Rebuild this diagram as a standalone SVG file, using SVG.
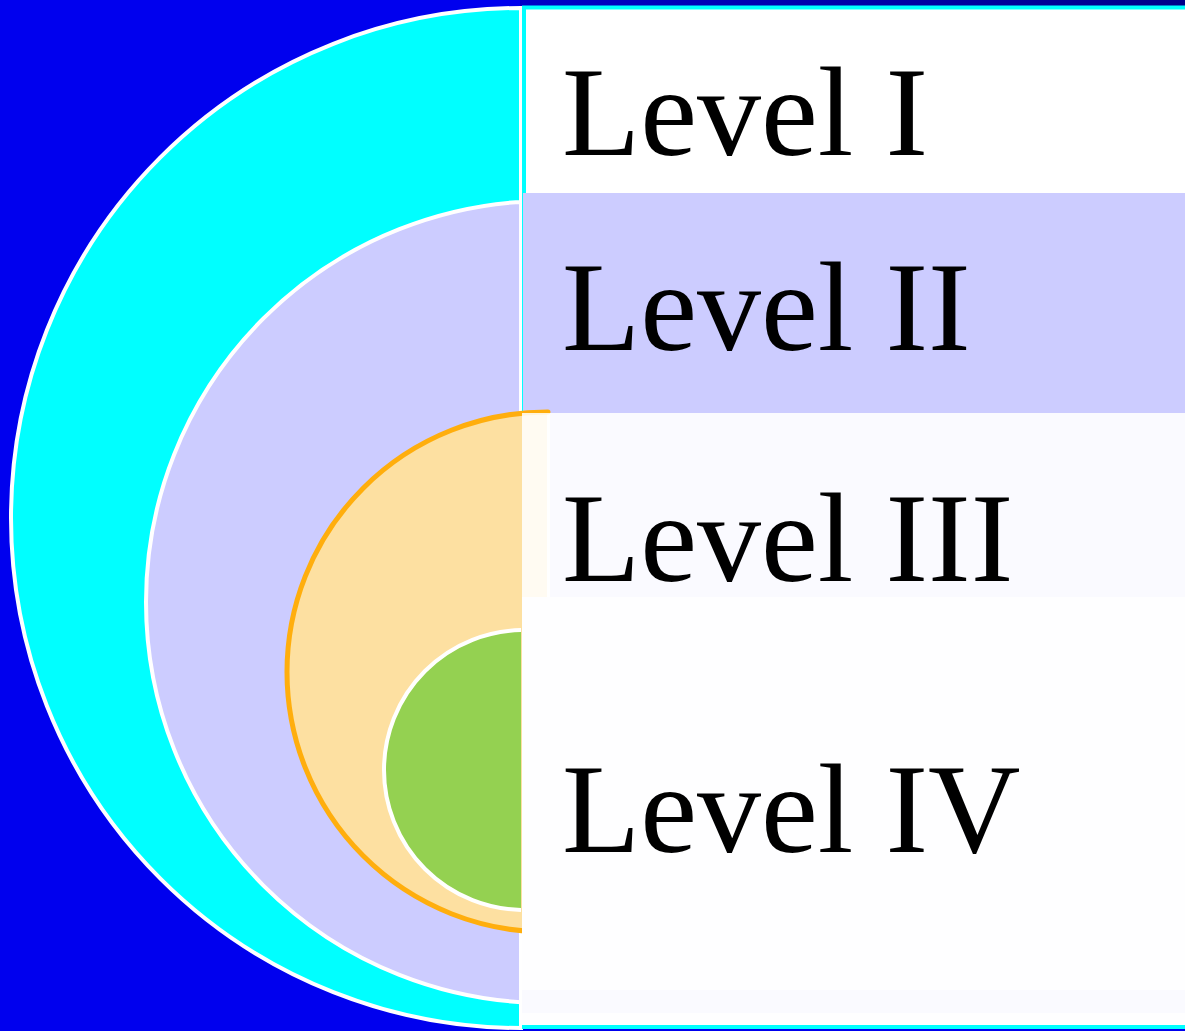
<svg xmlns="http://www.w3.org/2000/svg" width="1185" height="1031" viewBox="0 0 1185 1031">
<style>
.lbl{font-family:"Liberation Serif","Times New Roman",serif;font-size:128px;fill:#000}
.ring{stroke:#fff;stroke-width:4}
</style>
<defs>
<linearGradient id="topg" x1="0" y1="0" x2="1" y2="0">
<stop offset="0" stop-color="#0000c8"/>
<stop offset="1" stop-color="#00008a"/>
</linearGradient>
<clipPath id="leftClip"><rect x="0" y="0" width="521" height="1031"/></clipPath>
</defs>
<rect x="0" y="0" width="1185" height="1031" fill="#0000ee"/>
<rect x="520" y="0" width="665" height="6" fill="url(#topg)"/>
<g id="ring1">
<path class="ring" d="M521,8 A510,510 0 0 0 521,1028 Z" fill="#00ffff"/>
</g>
<g id="ring2">
<path class="ring" d="M547,201 A401,401 0 0 0 547,1003 L521,1003 L521,201 Z" fill="#ccccff"/>
</g>
<g id="panel">
<rect x="524" y="7.5" width="670" height="1019.5" fill="#fff" stroke="#00ffff" stroke-width="4"/>
</g>
<g id="level1">
<rect x="526" y="10" width="659" height="183" fill="#fff"/>
<text class="lbl" x="562" y="155">Level I</text>
</g>
<g id="level2">
<rect x="523" y="193" width="662" height="220" fill="#ccccff"/>
<text class="lbl" x="562" y="350">Level II</text>
</g>
<g id="ring3">
<path d="M547,412 A260,260 0 0 0 547,932 Z" fill="#fde0a1"/>
<path d="M548,412 L547,412 A260,260 0 0 0 547,932" fill="none" stroke="#ffae0d" stroke-width="5" stroke-linecap="round"/>
</g>
<g id="ring4">
<circle class="ring" cx="524" cy="770" r="140" fill="#94d151" clip-path="url(#leftClip)"/>
</g>
<g id="level3">
<rect x="522" y="413" width="28" height="184" fill="#fff" opacity="0.86"/>
<rect x="550" y="413" width="635" height="184" fill="#fafaff"/>
<text class="lbl" x="562" y="581">Level III</text>
</g>
<g id="level4">
<rect x="522" y="597" width="663" height="428" fill="#fefeff"/>
<rect x="522" y="990" width="663" height="23" fill="#fafaff"/>
<text class="lbl" x="562" y="852">Level IV</text>
</g>
<g id="connectors"></g>
</svg>
